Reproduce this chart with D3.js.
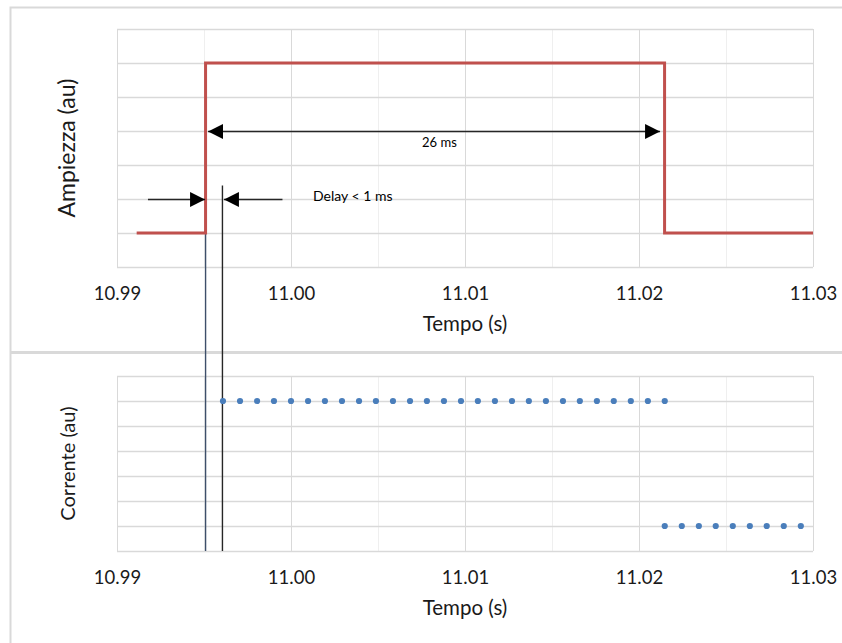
<!DOCTYPE html>
<html>
<head>
<meta charset="utf-8">
<script src="https://cdn.jsdelivr.net/npm/d3@7"></script>
<style>
  html, body { margin: 0; padding: 0; background: #fff; }
  svg { display: block; font-family: Lato, "Open Sans", sans-serif; }
</style>
</head>
<body>
<svg id="chart" width="842" height="643"></svg>
<script>
// Time axis (seconds)
const tickValues = [10.99, 11.00, 11.01, 11.02, 11.03];
const tickLabels = ["10.99", "11.00", "11.01", "11.02", "11.03"];
const minorTicks = [10.995, 11.005, 11.015, 11.025];

// Stimulus amplitude (step pulse)
const signalTime  = [10.99113, 10.99509, 10.99509, 11.02147, 11.02147, 11.03];
const signalLevel = [1, 1, 6, 6, 1, 1];

// Measured current samples
const currentTime = [
  10.99609, 10.99707, 10.99805, 10.99902, 11.00000, 11.00098, 11.00195, 11.00293,
  11.00391, 11.00488, 11.00586, 11.00684, 11.00781, 11.00879, 11.00977, 11.01074,
  11.01172, 11.01270, 11.01367, 11.01465, 11.01563, 11.01660, 11.01758, 11.01855,
  11.01953, 11.02051, 11.02148,
  11.02148, 11.02246, 11.02344, 11.02441, 11.02539, 11.02637, 11.02734, 11.02832, 11.02930
];
const currentLevel = [
  6, 6, 6, 6, 6, 6, 6, 6, 6, 6, 6, 6, 6, 6, 6, 6, 6, 6, 6, 6, 6, 6, 6, 6, 6, 6, 6,
  1, 1, 1, 1, 1, 1, 1, 1, 1
];

// Unlabelled amplitude grid (arbitrary units)
const levelTicks = [0, 1, 2, 3, 4, 5, 6, 7];

// Annotation times
const onsetTime = 10.99509;      // stimulus rise
const responseTime = 10.99606;   // first current sample
const pulseEnd = 11.02147;
const delayLeftStart = 10.99178;
const delayRightEnd = 10.99951;
const responseMarkTop = 2.4;

const svg = d3.select("#chart");
const W = 842, H = 643;
svg.append("rect").attr("width", W).attr("height", H).attr("fill", "#fff");

const x = d3.scaleLinear().domain([10.99, 11.03]).range([117, 813]);
const yTop = d3.scaleLinear().domain([0, 7]).range([267, 29]);
const yBot = d3.scaleLinear().domain([0, 7]).range([551, 376]);

// chart frames
svg.append("path")
  .attr("d", "M10.5,643 V7.5 H842")
  .attr("fill", "none").attr("stroke", "#d9d9d9").attr("stroke-width", 2);
svg.append("rect").attr("x", 10).attr("y", 351).attr("width", 832).attr("height", 3).attr("fill", "#d9d9d9");

function panel(y, title, titleSize) {
  const g = svg.append("g");
  const [y0, y1] = y.range();
  // minor vertical grid
  g.selectAll(".minor").data(minorTicks).join("line")
    .attr("x1", d => Math.round(x(d)) + 0.5).attr("x2", d => Math.round(x(d)) + 0.5)
    .attr("y1", y1).attr("y2", y0)
    .attr("stroke", "#efefef").attr("stroke-width", 1);
  // major vertical grid
  g.selectAll(".major").data(tickValues).join("line")
    .attr("x1", d => Math.round(x(d)) + 0.5).attr("x2", d => Math.round(x(d)) + 0.5)
    .attr("y1", y1).attr("y2", y0)
    .attr("stroke", "#d9d9d9").attr("stroke-width", 1);
  // horizontal grid
  g.selectAll(".hgrid").data(levelTicks).join("line")
    .attr("x1", x.range()[0]).attr("x2", x.range()[1])
    .attr("y1", d => Math.round(y(d)) + 0.5).attr("y2", d => Math.round(y(d)) + 0.5)
    .attr("stroke", "#d9d9d9").attr("stroke-width", 1.3);

  // x axis labels
  const axis = d3.axisBottom(x)
    .tickValues(tickValues)
    .tickFormat((d, i) => tickLabels[i])
    .tickSize(0).tickPadding(0);
  const ax = g.append("g").attr("transform", `translate(0,${y0})`).call(axis);
  ax.select(".domain").remove();
  ax.selectAll("text")
    .attr("dy", null).attr("y", 33)
    .attr("font-family", "Lato, sans-serif")
    .attr("font-size", 18.5).attr("fill", "#1a1a1a");

  g.append("text")
    .attr("x", (x.range()[0] + x.range()[1]) / 2).attr("y", y0 + 64)
    .attr("text-anchor", "middle")
    .attr("font-size", 20.5).attr("fill", "#1a1a1a")
    .text("Tempo (s)");

  g.append("text")
    .attr("transform", `translate(75,${(y0 + y1) / 2}) rotate(-90)`)
    .attr("text-anchor", "middle")
    .attr("font-size", titleSize).attr("fill", "#1a1a1a")
    .text(title);
  return g;
}

panel(yTop, "Ampiezza (au)", 23);
panel(yBot, "Corrente (au)", 20);

// marker lines spanning both panels
svg.append("line")
  .attr("x1", x(onsetTime)).attr("x2", x(onsetTime))
  .attr("y1", yTop(1)).attr("y2", yBot(0))
  .attr("stroke", "#3e4f6a").attr("stroke-width", 1.4);
svg.append("line")
  .attr("x1", x(responseTime)).attr("x2", x(responseTime))
  .attr("y1", yTop(responseMarkTop)).attr("y2", yBot(0))
  .attr("stroke", "#262626").attr("stroke-width", 1.4);

// stimulus step
const stepLine = d3.line()
  .x((d, i) => x(signalTime[i]))
  .y(d => yTop(d));
svg.append("path")
  .datum(signalLevel)
  .attr("d", stepLine)
  .attr("fill", "none")
  .attr("stroke", "#c0504d")
  .attr("stroke-width", 3)
  .attr("stroke-linejoin", "miter");

// arrows
const defs = svg.append("defs");
defs.append("marker")
  .attr("id", "head")
  .attr("viewBox", "0 0 10 10")
  .attr("refX", 10).attr("refY", 5)
  .attr("markerWidth", 15).attr("markerHeight", 15)
  .attr("markerUnits", "userSpaceOnUse")
  .attr("orient", "auto-start-reverse")
  .append("path").attr("d", "M0,0 L10,5 L0,10 Z").attr("fill", "#000");

function arrow(x1, x2, yv, start, end) {
  const l = svg.append("line")
    .attr("x1", x1).attr("x2", x2)
    .attr("y1", yv).attr("y2", yv)
    .attr("stroke", "#262626").attr("stroke-width", 1.5);
  if (start) l.attr("marker-start", "url(#head)");
  if (end) l.attr("marker-end", "url(#head)");
}

// pulse duration
arrow(x(onsetTime) + 2.5, x(pulseEnd) - 4.5, Math.round(yTop(4)) + 0.5, true, true);
svg.append("text")
  .attr("x", x(11.00853)).attr("y", yTop(4) + 16)
  .attr("text-anchor", "middle")
  .attr("font-size", 13).attr("fill", "#000")
  .text("26 ms");

// response delay
arrow(x(delayLeftStart), x(onsetTime) - 0.5, Math.round(yTop(2)) + 0.5, false, true);
arrow(x(delayRightEnd), x(responseTime) + 1.5, Math.round(yTop(2)) + 0.5, false, true);
svg.append("text")
  .attr("x", 313).attr("y", yTop(2) + 1.5)
  .attr("font-size", 14).attr("fill", "#000")
  .text("Delay < 1 ms");

// current samples
svg.append("g").selectAll("circle")
  .data(currentLevel)
  .join("circle")
  .attr("cx", (d, i) => x(currentTime[i]))
  .attr("cy", d => yBot(d))
  .attr("r", 3.1)
  .attr("fill", "#4a7ebb");
</script>
</body>
</html>
